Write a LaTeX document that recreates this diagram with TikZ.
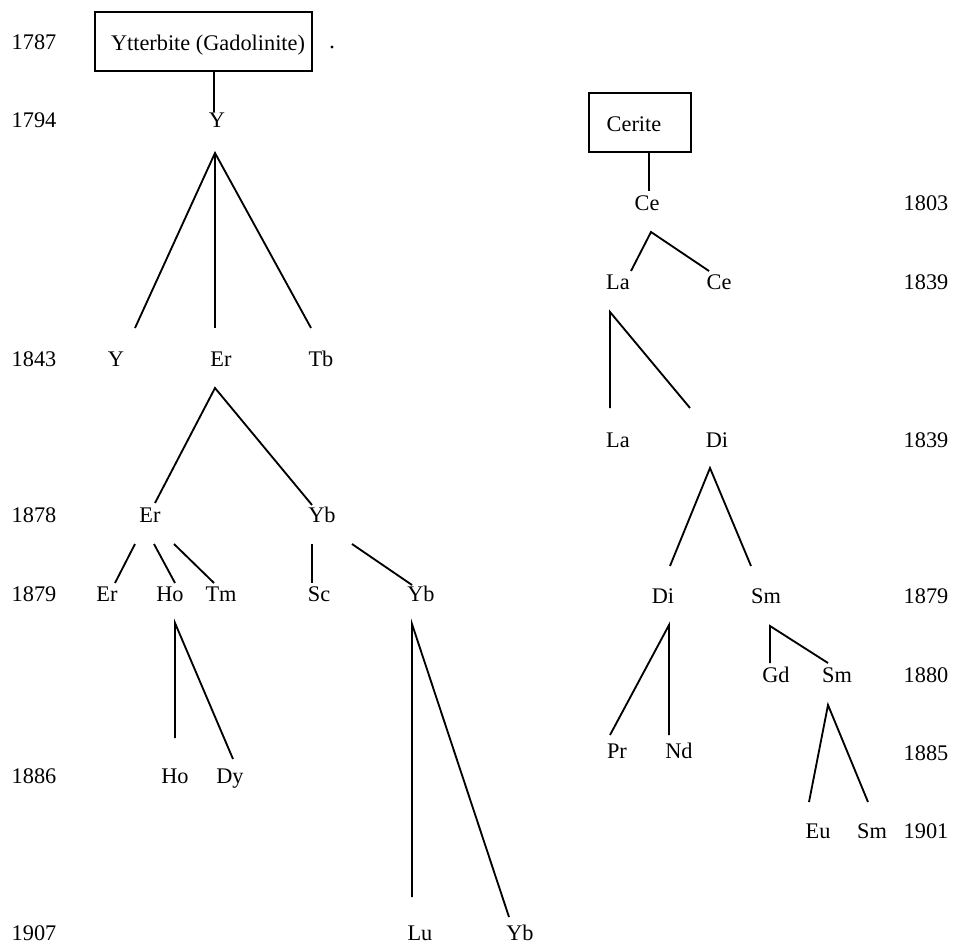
\documentclass[tikz,border=0pt]{standalone}
\usepackage{fontspec}
\setmainfont{Liberation Serif}
\begin{document}
\begin{tikzpicture}[x=0.2mm,y=-0.2mm,
  lbl/.style={inner sep=0pt,text height=0.66em,text depth=0pt,font=\fontsize{12.7}{15}\selectfont},
  boxnode/.style={draw,line width=1pt,inner sep=0pt},
  link/.style={line width=1.05pt}]
\useasboundingbox (0,0) rectangle (957,950);
% years left
\node[lbl] (yl1787) at (34,44) {1787};
\node[lbl] (yl1794) at (34,122) {1794};
\node[lbl] (yl1843) at (34,361) {1843};
\node[lbl] (yl1878) at (34,517) {1878};
\node[lbl] (yl1879) at (34,596) {1879};
\node[lbl] (yl1886) at (34,778) {1886};
\node[lbl] (yl1907) at (34,935) {1907};
% years right
\node[lbl] (yr1803) at (926,205) {1803};
\node[lbl] (yr1839a) at (926,284) {1839};
\node[lbl] (yr1839b) at (926,442) {1839};
\node[lbl] (yr1879) at (926,598) {1879};
\node[lbl] (yr1880) at (926,677) {1880};
\node[lbl] (yr1885) at (926,755) {1885};
\node[lbl] (yr1901) at (926,833) {1901};
% left tree
\node[boxnode,minimum width=43.4mm,minimum height=11.8mm] (gad) at (203.5,41.5) {};
\node[lbl] (gadtxt) at (208,45) {Ytterbite (Gadolinite)};
\fill (332,47) circle (1.6);
\node[lbl] (Y0) at (217,122) {Y};
\node[lbl] (Y1) at (116,361) {Y};
\node[lbl] (Er1) at (221,361) {Er};
\node[lbl] (Tb1) at (321,361) {Tb};
\node[lbl] (Er2) at (150,517) {Er};
\node[lbl] (Yb2) at (322,517) {Yb};
\node[lbl] (Er3) at (107,596) {Er};
\node[lbl] (Ho3) at (170,596) {Ho};
\node[lbl] (Tm3) at (221,596) {Tm};
\node[lbl] (Sc3) at (319,596) {Sc};
\node[lbl] (Yb3) at (421,596) {Yb};
\node[lbl] (Ho4) at (175,778) {Ho};
\node[lbl] (Dy4) at (230,778) {Dy};
\node[lbl] (Lu5) at (420,935) {Lu};
\node[lbl] (Yb5) at (520,935) {Yb};
% left connectors
\coordinate (gadb) at (214,71);
\coordinate (Y0t) at (214,112);
\coordinate (a1) at (215,153);
\coordinate (Y1t) at (135,328);
\coordinate (Er1t) at (215,328);
\coordinate (Tb1t) at (311,328);
\coordinate (a2) at (215,388);
\coordinate (Er2t) at (155,503);
\coordinate (Yb2t) at (312,505);
\coordinate (Er3b) at (135,544);
\coordinate (Er3t) at (115,583);
\coordinate (Ho3b) at (154,544);
\coordinate (Ho3t) at (175,583);
\coordinate (Tm3b) at (174,544);
\coordinate (Tm3t) at (214,583);
\coordinate (Sc3b) at (312,544);
\coordinate (Sc3t) at (312,583);
\coordinate (Yb3b) at (352,544);
\coordinate (Yb3t) at (412,585);
\coordinate (a5) at (175,623);
\coordinate (Ho4t) at (175,738);
\coordinate (Dy4t) at (233,759);
\coordinate (a6) at (412,624);
\coordinate (Lu5t) at (412,897);
\coordinate (Yb5t) at (509,917);
\draw[link] (gadb) -- (Y0t);
\draw[link] (Y1t) -- (a1) -- (Tb1t);
\draw[link] (a1) -- (Er1t);
\draw[link] (Er2t) -- (a2) -- (Yb2t);
\draw[link] (Er3b) -- (Er3t);
\draw[link] (Ho3b) -- (Ho3t);
\draw[link] (Tm3b) -- (Tm3t);
\draw[link] (Sc3b) -- (Sc3t);
\draw[link] (Yb3b) -- (Yb3t);
\draw[link] (Ho4t) -- (a5) -- (Dy4t);
\draw[link] (Lu5t) -- (a6) -- (Yb5t);
% right tree
\node[boxnode,minimum width=20.4mm,minimum height=11.8mm] (cer) at (640,122.5) {};
\node[lbl] (certxt) at (634,126) {Cerite};
\node[lbl] (Ce0) at (647,205) {Ce};
\node[lbl] (La1) at (618,284) {La};
\node[lbl] (Ce1) at (719,284) {Ce};
\node[lbl] (La2) at (618,442) {La};
\node[lbl] (Di2) at (717,442) {Di};
\node[lbl] (Di3) at (663,598) {Di};
\node[lbl] (Sm3) at (766,598) {Sm};
\node[lbl] (Gd4) at (776,677) {Gd};
\node[lbl] (Sm4) at (837,677) {Sm};
\node[lbl] (Pr4) at (617,753) {Pr};
\node[lbl] (Nd4) at (679,753) {Nd};
\node[lbl] (Eu5) at (818,833) {Eu};
\node[lbl] (Sm5) at (872,833) {Sm};
\coordinate (cerb) at (649,152);
\coordinate (Ce0t) at (649,191);
\coordinate (b1) at (651,232);
\coordinate (La1t) at (631,271);
\coordinate (Ce1t) at (709,271);
\coordinate (b2) at (610,312);
\coordinate (La2t) at (610,408);
\coordinate (Di2t) at (690,408);
\coordinate (b3) at (710,468);
\coordinate (Di3t) at (670,566);
\coordinate (Sm3t) at (751,566);
\coordinate (b4) at (669,625);
\coordinate (Pr4t) at (610,735);
\coordinate (Nd4t) at (669,735);
\coordinate (b5) at (770,626);
\coordinate (Gd4t) at (770,663);
\coordinate (Sm4t) at (828,663);
\coordinate (b6) at (828,705);
\coordinate (Eu5t) at (809,802);
\coordinate (Sm5t) at (868,802);
\draw[link] (cerb) -- (Ce0t);
\draw[link] (La1t) -- (b1) -- (Ce1t);
\draw[link] (La2t) -- (b2) -- (Di2t);
\draw[link] (Di3t) -- (b3) -- (Sm3t);
\draw[link] (Pr4t) -- (b4) -- (Nd4t);
\draw[link] (Gd4t) -- (b5) -- (Sm4t);
\draw[link] (Eu5t) -- (b6) -- (Sm5t);
\end{tikzpicture}
\end{document}
